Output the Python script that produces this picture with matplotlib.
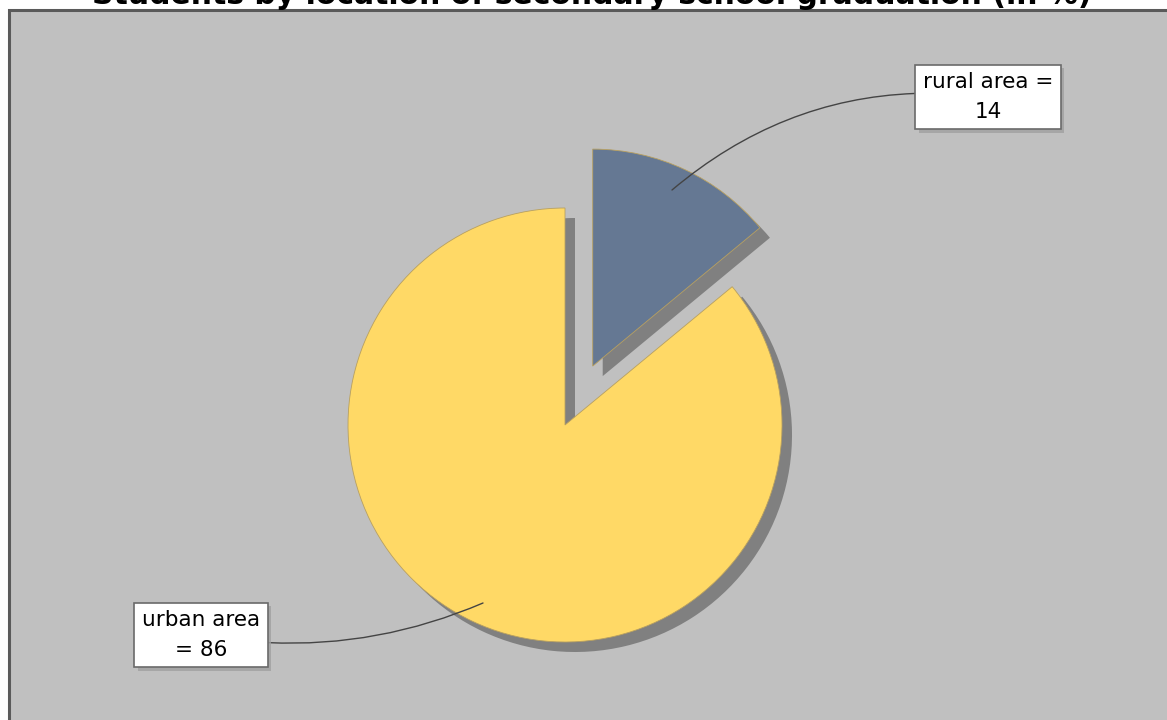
import matplotlib
matplotlib.use("Agg")
import matplotlib.pyplot as plt
from matplotlib.patches import Rectangle
import matplotlib.patheffects as pe

title = "Students by location of secondary school graduation (in %)"
categories = ["rural area", "urban area"]
values = [14, 86]
colors = ["#657893", "#FFD966"]
explode = [0.30, 0.0]

W, H = 1167, 720
cx, cy, R = 565, 425, 217  # pixel geometry of the pie

fig = plt.figure(figsize=(W / 100, H / 100), dpi=100)
fig.patch.set_facecolor("white")

# plot area background
fig.add_artist(Rectangle((9 / W, -0.01), 1.02, 1 - 10 / H + 0.01,
                         transform=fig.transFigure, facecolor="#C0C0C0",
                         edgecolor="#5a5a5a", linewidth=2.2, zorder=0))

ax = fig.add_axes([0, 0, 1, 1])
ax.set_facecolor("none")

# shadow
sh = 10 / R
ax.pie(values, explode=explode, startangle=90, counterclock=False,
       colors=["#808080", "#808080"], center=(sh, -sh), radius=1,
       wedgeprops=dict(linewidth=0), frame=True)
ax.pie(values, explode=explode, startangle=90, counterclock=False,
       colors=colors, center=(0, 0), radius=1,
       wedgeprops=dict(linewidth=0.6, edgecolor="#b8a060"), frame=True)
ax.set_xlim(-cx / R, (W - cx) / R)
ax.set_ylim(-(H - cy) / R, cy / R)
ax.set_aspect("auto")
ax.axis("off")

def px(x, y):
    return ((x - cx) / R, (cy - y) / R)

labels = [f"{categories[0]} =\n{values[0]}", f"{categories[1]}\n= {values[1]}"]
anchors = [px(672, 190), px(483, 603)]
boxes = [px(988, 97), px(201, 635)]
rads = [0.22, 0.15]
fs = 15.5

for lab, a, b, r in zip(labels, anchors, boxes, rads):
    t = ax.annotate(lab, xy=a, xytext=b, ha="center", va="center",
                    fontsize=fs, linespacing=1.6, color="black",
                    bbox=dict(boxstyle="square,pad=0.35", facecolor="white",
                              edgecolor="#6a6a6a", linewidth=1.2),
                    arrowprops=dict(arrowstyle="-", color="#444444", lw=1,
                                    connectionstyle=f"arc3,rad={r}",
                                    shrinkA=0, shrinkB=0),
                    zorder=5)
    t.get_bbox_patch().set_path_effects(
        [pe.SimplePatchShadow(offset=(2.5, -2.5), shadow_rgbFace="#a0a0a0", alpha=0.8),
         pe.Normal()])

fig.text(592 / W, 1 - 4 / H, title, ha="center", va="baseline",
         fontsize=21.5, fontweight="bold")

fig.savefig("out.png", dpi=100)
